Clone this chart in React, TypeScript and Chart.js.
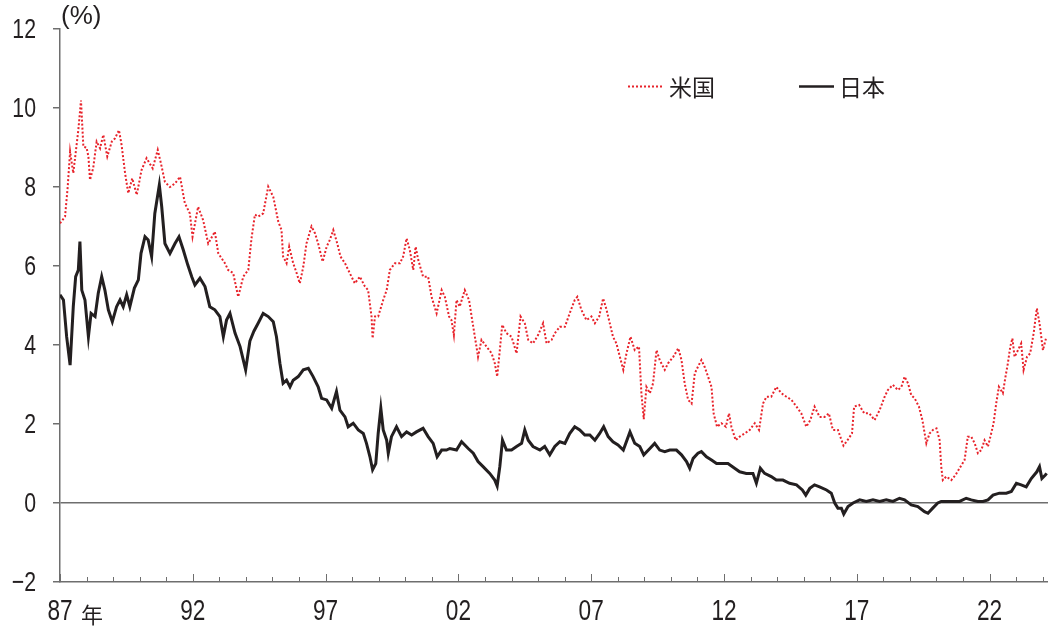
import React, { useEffect, useRef } from "react";
import Chart from "chart.js/auto";

// 米国 10年国債利回り (decimal year, %)
const usDates = [
  1987.0, 1987.19, 1987.29, 1987.38, 1987.5, 1987.69, 1987.79, 1987.88, 1988.0, 1988.07, 1988.13, 1988.25,
  1988.38, 1988.51, 1988.63, 1988.78, 1988.95, 1989.07, 1989.22, 1989.32, 1989.45, 1989.57, 1989.72, 1989.89,
  1990.07, 1990.26, 1990.49, 1990.68, 1990.8, 1990.95, 1991.14, 1991.33, 1991.52, 1991.7, 1991.89, 1991.99,
  1992.2, 1992.39, 1992.58, 1992.83, 1992.96, 1993.21, 1993.33, 1993.52, 1993.71, 1993.9, 1994.09, 1994.21,
  1994.34, 1994.46, 1994.65, 1994.84, 1995.03, 1995.22, 1995.34, 1995.4, 1995.53, 1995.63, 1995.78, 1995.91,
  1996.03, 1996.16, 1996.28, 1996.47, 1996.6, 1996.72, 1996.89, 1997.04, 1997.16, 1997.29, 1997.44, 1997.56,
  1997.73, 1997.91, 1998.1, 1998.29, 1998.48, 1998.6, 1998.73, 1998.77, 1998.86, 1998.98, 1999.17, 1999.3,
  1999.42, 1999.61, 1999.8, 1999.92, 2000.05, 2000.17, 2000.3, 2000.39, 2000.49, 2000.67, 2000.86, 2000.99,
  2001.18, 2001.37, 2001.49, 2001.65, 2001.74, 2001.83, 2001.93, 2002.05, 2002.24, 2002.4, 2002.56, 2002.68,
  2002.74, 2002.87, 2003.06, 2003.25, 2003.37, 2003.46, 2003.56, 2003.65, 2003.81, 2004.0, 2004.19, 2004.34,
  2004.5, 2004.63, 2004.81, 2005.0, 2005.19, 2005.32, 2005.51, 2005.63, 2005.82, 2006.01, 2006.19, 2006.38,
  2006.48, 2006.63, 2006.82, 2007.01, 2007.14, 2007.3, 2007.45, 2007.58, 2007.7, 2007.82, 2007.95, 2008.08,
  2008.21, 2008.33, 2008.48, 2008.64, 2008.8, 2008.89, 2008.98, 2009.08, 2009.21, 2009.33, 2009.46, 2009.58,
  2009.77, 2009.9, 2010.09, 2010.28, 2010.4, 2010.52, 2010.65, 2010.78, 2010.9, 2011.02, 2011.15, 2011.27,
  2011.4, 2011.53, 2011.61, 2011.74, 2011.9, 2012.07, 2012.19, 2012.28, 2012.44, 2012.59, 2012.78, 2012.97,
  2013.16, 2013.32, 2013.47, 2013.6, 2013.78, 2013.97, 2014.16, 2014.35, 2014.54, 2014.73, 2014.91, 2015.1,
  2015.25, 2015.41, 2015.6, 2015.79, 2015.95, 2016.1, 2016.29, 2016.5, 2016.65, 2016.82, 2016.9, 2017.09,
  2017.28, 2017.47, 2017.67, 2017.86, 2018.05, 2018.17, 2018.36, 2018.55, 2018.68, 2018.8, 2018.93, 2019.05,
  2019.18, 2019.34, 2019.47, 2019.62, 2019.74, 2019.87, 2020.0, 2020.12, 2020.18, 2020.24, 2020.37, 2020.56,
  2020.72, 2020.87, 2021.06, 2021.18, 2021.31, 2021.44, 2021.56, 2021.69, 2021.81, 2021.94, 2022.06, 2022.15,
  2022.25, 2022.35, 2022.5, 2022.6, 2022.69, 2022.78, 2022.86, 2022.94, 2023.07, 2023.19, 2023.28, 2023.41,
  2023.53, 2023.66, 2023.78, 2023.88, 2024.01, 2024.14,
];
const usYields = [
  7.08, 7.25, 8.0, 8.9, 8.35, 9.44, 10.19, 9.02, 9.0, 8.77, 8.18, 8.48,
  9.15, 8.98, 9.32, 8.77, 9.15, 9.23, 9.44, 9.06, 8.35, 7.84, 8.22, 7.8,
  8.43, 8.73, 8.47, 8.94, 8.6, 8.13, 8.0, 8.09, 8.26, 7.59, 7.33, 6.74,
  7.5, 7.16, 6.57, 6.87, 6.32, 6.07, 5.9, 5.82, 5.22, 5.73, 5.9, 6.7,
  7.3, 7.25, 7.33, 8.01, 7.75, 7.12, 6.91, 6.24, 6.07, 6.49, 6.07, 5.82,
  5.56, 5.98, 6.57, 7.0, 6.83, 6.57, 6.11, 6.49, 6.66, 6.91, 6.57, 6.24,
  6.07, 5.82, 5.56, 5.73, 5.48, 5.39, 4.72, 4.17, 4.72, 4.72, 5.14, 5.39,
  5.9, 6.07, 6.07, 6.24, 6.7, 6.41, 5.9, 6.49, 6.15, 5.73, 5.73, 5.22,
  4.8, 5.39, 5.22, 4.72, 4.63, 4.25, 5.14, 4.97, 5.39, 5.14, 4.46, 3.96,
  3.7, 4.13, 3.96, 3.79, 3.54, 3.2, 3.87, 4.51, 4.3, 4.21, 3.79, 4.72,
  4.55, 4.13, 4.04, 4.25, 4.55, 4.04, 4.13, 4.3, 4.46, 4.46, 4.8, 5.14,
  5.22, 4.89, 4.63, 4.72, 4.55, 4.72, 5.18, 4.89, 4.55, 4.21, 4.04, 3.7,
  3.37, 3.79, 4.21, 3.87, 3.96, 2.78, 2.12, 2.94, 2.78, 3.03, 3.87, 3.62,
  3.37, 3.54, 3.7, 3.92, 3.62, 3.03, 2.61, 2.52, 3.28, 3.45, 3.62, 3.45,
  3.2, 2.94, 2.27, 1.93, 2.02, 1.93, 2.27, 1.93, 1.59, 1.68, 1.76, 1.85,
  2.02, 1.85, 2.52, 2.69, 2.69, 2.94, 2.78, 2.69, 2.61, 2.44, 2.27, 1.93,
  2.1, 2.44, 2.18, 2.18, 2.27, 1.85, 1.85, 1.45, 1.59, 1.76, 2.44, 2.48,
  2.27, 2.27, 2.1, 2.35, 2.69, 2.86, 2.99, 2.86, 2.94, 3.2, 3.03, 2.73,
  2.65, 2.44, 2.1, 1.51, 1.76, 1.85, 1.89, 1.59, 0.92, 0.58, 0.67, 0.58,
  0.71, 0.88, 1.09, 1.68, 1.68, 1.51, 1.26, 1.34, 1.59, 1.43, 1.76, 2.02,
  2.52, 2.94, 2.78, 3.2, 3.54, 3.96, 4.17, 3.7, 3.87, 4.04, 3.37, 3.7,
  3.79, 4.3, 4.93, 4.55, 3.87, 4.21,
];

// 日本 10年国債利回り (decimal year, %)
const jpDates = [
  1987.0, 1987.13, 1987.25, 1987.38, 1987.5, 1987.59, 1987.69, 1987.75, 1987.82, 1987.94, 1988.07, 1988.17,
  1988.32, 1988.44, 1988.57, 1988.69, 1988.82, 1988.97, 1989.13, 1989.26, 1989.38, 1989.51, 1989.63, 1989.8,
  1989.95, 1990.05, 1990.2, 1990.32, 1990.45, 1990.57, 1990.74, 1990.83, 1990.95, 1991.14, 1991.33, 1991.48,
  1991.64, 1991.81, 1991.96, 1992.08, 1992.27, 1992.46, 1992.64, 1992.83, 1993.02, 1993.15, 1993.27, 1993.4,
  1993.59, 1993.78, 1993.99, 1994.15, 1994.3, 1994.46, 1994.65, 1994.84, 1995.03, 1995.15, 1995.28, 1995.4,
  1995.53, 1995.66, 1995.78, 1995.97, 1996.16, 1996.35, 1996.53, 1996.72, 1996.85, 1997.04, 1997.23, 1997.41,
  1997.54, 1997.73, 1997.85, 1998.04, 1998.23, 1998.42, 1998.54, 1998.67, 1998.77, 1998.89, 1998.98, 1999.08,
  1999.17, 1999.3, 1999.36, 1999.48, 1999.67, 1999.86, 2000.05, 2000.24, 2000.42, 2000.67, 2000.86, 2001.05,
  2001.2, 2001.37, 2001.55, 2001.68, 2001.93, 2002.12, 2002.37, 2002.56, 2002.74, 2002.93, 2003.18, 2003.37,
  2003.46, 2003.56, 2003.66, 2003.81, 2004.0, 2004.19, 2004.38, 2004.5, 2004.63, 2004.81, 2005.07, 2005.25,
  2005.44, 2005.63, 2005.82, 2006.01, 2006.19, 2006.38, 2006.57, 2006.76, 2006.95, 2007.14, 2007.32, 2007.47,
  2007.64, 2007.82, 2008.01, 2008.21, 2008.46, 2008.64, 2008.83, 2008.98, 2009.21, 2009.39, 2009.58, 2009.77,
  2009.96, 2010.21, 2010.4, 2010.59, 2010.71, 2010.84, 2011.02, 2011.15, 2011.34, 2011.53, 2011.72, 2011.96,
  2012.15, 2012.4, 2012.59, 2012.84, 2013.09, 2013.22, 2013.37, 2013.53, 2013.78, 2013.97, 2014.22, 2014.47,
  2014.73, 2014.95, 2015.08, 2015.23, 2015.41, 2015.6, 2015.86, 2016.04, 2016.17, 2016.29, 2016.42, 2016.51,
  2016.67, 2016.86, 2017.11, 2017.36, 2017.61, 2017.86, 2018.11, 2018.36, 2018.61, 2018.8, 2019.05, 2019.3,
  2019.55, 2019.68, 2019.86, 2020.05, 2020.18, 2020.37, 2020.62, 2020.87, 2021.12, 2021.31, 2021.56, 2021.75,
  2021.94, 2022.13, 2022.37, 2022.63, 2022.82, 2023.01, 2023.19, 2023.38, 2023.57, 2023.78, 2023.88, 2023.97,
  2024.1, 2024.15,
];
const jpYields = [
  5.27, 5.14, 4.21, 3.49, 4.97, 5.73, 5.9, 6.62, 5.39, 5.14, 4.21, 4.8,
  4.72, 5.31, 5.73, 5.39, 4.89, 4.59, 4.97, 5.14, 4.97, 5.27, 4.97, 5.44,
  5.65, 6.32, 6.74, 6.66, 6.24, 7.33, 8.05, 7.5, 6.57, 6.32, 6.57, 6.74,
  6.41, 6.03, 5.73, 5.52, 5.69, 5.48, 4.97, 4.89, 4.72, 4.21, 4.63, 4.8,
  4.3, 3.96, 3.37, 4.1, 4.35, 4.55, 4.8, 4.72, 4.59, 4.21, 3.54, 3.03,
  3.11, 2.94, 3.11, 3.2, 3.37, 3.41, 3.2, 2.94, 2.65, 2.61, 2.4, 2.82,
  2.35, 2.18, 1.93, 2.02, 1.85, 1.76, 1.51, 1.17, 0.84, 1.0, 1.76, 2.4,
  1.85, 1.59, 1.26, 1.68, 1.93, 1.68, 1.8, 1.72, 1.8, 1.89, 1.68, 1.51,
  1.17, 1.34, 1.34, 1.38, 1.34, 1.55, 1.38, 1.26, 1.05, 0.92, 0.75, 0.58,
  0.43, 0.92, 1.59, 1.34, 1.34, 1.43, 1.51, 1.85, 1.59, 1.43, 1.34, 1.43,
  1.22, 1.43, 1.55, 1.51, 1.76, 1.93, 1.85, 1.72, 1.72, 1.59, 1.76, 1.93,
  1.68, 1.55, 1.47, 1.34, 1.8, 1.51, 1.43, 1.22, 1.38, 1.51, 1.34, 1.3,
  1.34, 1.34, 1.22, 1.05, 0.88, 1.13, 1.26, 1.3, 1.17, 1.09, 1.0, 1.0,
  1.0, 0.88, 0.79, 0.75, 0.75, 0.5, 0.88, 0.75, 0.67, 0.58, 0.58, 0.5,
  0.46, 0.33, 0.2, 0.37, 0.46, 0.41, 0.33, 0.25, 0.0, -0.13, -0.13, -0.28,
  -0.09, 0.0, 0.08, 0.04, 0.08, 0.04, 0.08, 0.04, 0.12, 0.08, -0.05, -0.09,
  -0.22, -0.26, -0.13, 0.0, 0.04, 0.04, 0.04, 0.04, 0.12, 0.08, 0.04, 0.04,
  0.08, 0.2, 0.25, 0.25, 0.29, 0.5, 0.46, 0.41, 0.62, 0.79, 0.92, 0.62,
  0.71, 0.75,
];

const seriesNames = ["米国", "日本"];
const xTickYears = [1987, 1992, 1997, 2002, 2007, 2012, 2017, 2022];
const xTickLabels = ["87", "92", "97", "02", "07", "12", "17", "22"];
const yTickValues = [-2, 0, 2, 4, 6, 8, 10, 12];
const yTickLabels = ["\u22122", "0", "2", "4", "6", "8", "10", "12"];
const yUnitLabel = "(%)";
const yearSuffix = "年";

const RED = "#e8232b";
const BLACK = "#231f20";
const AXIS = "#6e6e6e";
const NUM_FONT = "'Liberation Sans', Arial, sans-serif";
const JP_FONT = "'Noto Sans CJK JP', 'Noto Sans', sans-serif";

export default function App() {
  const ref = useRef<HTMLCanvasElement | null>(null);

  useEffect(() => {
    document.body.style.margin = "0";
    const canvas = ref.current;
    if (!canvas) return;

    const decor = {
      id: "decor",
      afterDraw(chart: any) {
        const ctx = chart.ctx;
        const xs = chart.scales.x;
        const ys = chart.scales.y;
        const area = chart.chartArea;
        ctx.save();
        // inward x ticks (yearly minor, 5-yearly major)
        ctx.strokeStyle = AXIS;
        ctx.lineWidth = 1;
        for (let yr = Math.ceil(xs.min); yr <= xs.max; yr++) {
          const px = Math.round(xs.getPixelForValue(yr)) + 0.5;
          const len = xTickYears.includes(yr) ? 8 : 5;
          ctx.beginPath();
          ctx.moveTo(px, area.bottom);
          ctx.lineTo(px, area.bottom - len);
          ctx.stroke();
        }
        // condensed numeric tick labels
        ctx.fillStyle = BLACK;
        ctx.font = `29px ${NUM_FONT}`;
        ctx.textAlign = "center";
        ctx.textBaseline = "middle";
        xTickYears.forEach((yr, i) => {
          ctx.save();
          ctx.translate(xs.getPixelForValue(yr), 612);
          ctx.scale(0.78, 1);
          ctx.fillText(xTickLabels[i], 0, 0);
          ctx.restore();
        });
        ctx.font = `28px ${NUM_FONT}`;
        ctx.textAlign = "right";
        yTickValues.forEach((v, i) => {
          ctx.save();
          ctx.translate(36, ys.getPixelForValue(v) + 1);
          ctx.scale(0.76, 1);
          ctx.fillText(yTickLabels[i], 0, 0);
          ctx.restore();
        });
        // 年 suffix after first label
        ctx.textAlign = "left";
        ctx.font = `22px ${JP_FONT}`;
        ctx.textBaseline = "alphabetic";
        ctx.fillText(yearSuffix, xs.getPixelForValue(xTickYears[0]) + 21, 623);
        // unit label
        ctx.font = `26px ${NUM_FONT}`;
        ctx.textBaseline = "middle";
        ctx.fillText(yUnitLabel, area.left + 1, 17);
        // legend
        const ly = 86.5;
        ctx.strokeStyle = RED;
        ctx.lineWidth = 2;
        ctx.setLineDash([2, 2]);
        ctx.beginPath();
        ctx.moveTo(628, ly);
        ctx.lineTo(664, ly);
        ctx.stroke();
        ctx.setLineDash([]);
        ctx.strokeStyle = BLACK;
        ctx.lineWidth = 2.5;
        ctx.beginPath();
        ctx.moveTo(799, ly);
        ctx.lineTo(834, ly);
        ctx.stroke();
        ctx.font = `23px ${JP_FONT}`;
        ctx.fillStyle = BLACK;
        ctx.textBaseline = "middle";
        ctx.fillText(seriesNames[0], 669, ly + 1);
        ctx.fillText(seriesNames[1], 839, ly + 1);
        ctx.restore();
      },
    };

    const chart = new Chart(canvas, {
      type: "line",
      data: {
        datasets: [
          {
            label: seriesNames[0],
            data: usDates.map((d, i) => ({ x: d, y: usYields[i] })),
            borderColor: RED,
            borderWidth: 2,
            borderDash: [2, 2],
            pointRadius: 0,
            tension: 0,
          },
          {
            label: seriesNames[1],
            data: jpDates.map((d, i) => ({ x: d, y: jpYields[i] })),
            borderColor: BLACK,
            borderWidth: 3,
            pointRadius: 0,
            tension: 0,
          },
        ],
      },
      plugins: [decor],
      options: {
        responsive: false,
        animation: false,
        layout: { padding: { top: 29, right: 0, left: 0, bottom: 0 } },
        plugins: { legend: { display: false }, tooltip: { enabled: false } },
        scales: {
          x: {
            type: "linear",
            min: 1987,
            max: 2024.2,
            afterBuildTicks: (s: any) => {
              s.ticks = xTickYears.map((v) => ({ value: v }));
            },
            afterFit: (s: any) => {
              s.height = 48;
            },
            grid: { display: false, drawTicks: false },
            border: { display: true, color: AXIS, width: 1.5 },
            ticks: { display: false },
          },
          y: {
            min: -2,
            max: 12,
            afterBuildTicks: (s: any) => {
              s.ticks = yTickValues.map((v) => ({ value: v }));
            },
            afterFit: (s: any) => {
              s.width = 60;
            },
            grid: {
              drawOnChartArea: true,
              drawTicks: true,
              tickLength: 7,
              tickColor: AXIS,
              color: (c: any) => (c.tick && c.tick.value === 0 ? AXIS : "rgba(0,0,0,0)"),
              lineWidth: 1.5,
            },
            border: { display: true, color: AXIS, width: 1.5 },
            ticks: { display: false },
          },
        },
      },
    });
    return () => chart.destroy();
  }, []);

  return <canvas ref={ref} width={1048} height={630} style={{ display: "block" }} />;
}
